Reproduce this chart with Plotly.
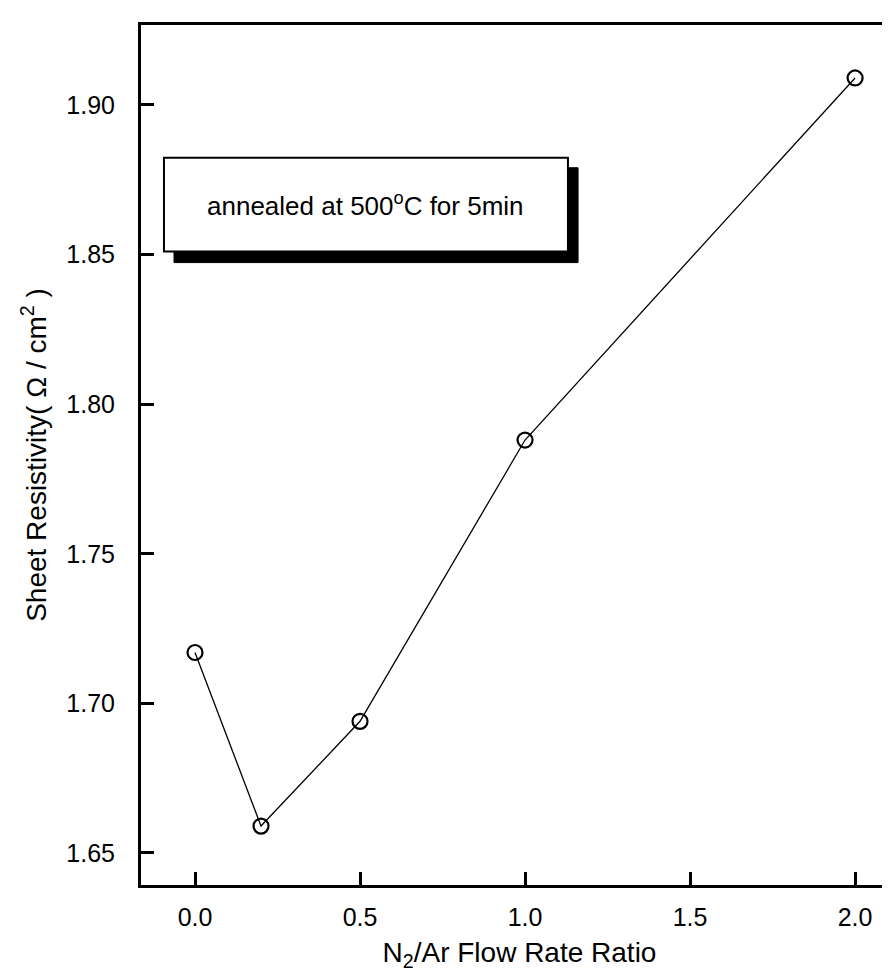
import plotly.graph_objects as go

# Data
flow_ratio = [0.0, 0.2, 0.5, 1.0, 2.0]
sheet_resistivity = [1.717, 1.659, 1.694, 1.788, 1.909]

x_ticks = [0.0, 0.5, 1.0, 1.5, 2.0]
y_ticks = [1.65, 1.70, 1.75, 1.80, 1.85, 1.90]

note_text = "annealed at 500<sup>o</sup>C for 5min"
x_title = "N<sub>2</sub>/Ar Flow Rate Ratio"
y_title = "Sheet Resistivity( \u03a9 / cm<sup>2</sup> )"

FONT = "Arial, 'Liberation Sans', Helvetica, sans-serif"

fig = go.Figure()
fig.add_trace(go.Scatter(
    x=flow_ratio, y=sheet_resistivity,
    mode="lines+markers",
    line=dict(color="black", width=1.3),
    marker=dict(symbol="circle-open", size=15, color="black",
                line=dict(color="black", width=2.2)),
    showlegend=False,
))

# shadowed label box
fig.add_shape(type="rect", xref="x", yref="y",
              x0=-0.0636, x1=1.1606, y0=1.8473, y1=1.879,
              fillcolor="black", line=dict(color="black", width=1), layer="above")
fig.add_shape(type="rect", xref="x", yref="y",
              x0=-0.094, x1=1.130, y0=1.851, y1=1.8823,
              fillcolor="white", line=dict(color="black", width=2), layer="above")
fig.add_annotation(x=0.518, y=1.8667, xref="x", yref="y", text=note_text,
                   showarrow=False, font=dict(family=FONT, size=26, color="black"))

fig.update_xaxes(
    range=[-0.1636, 2.130],
    tickvals=x_ticks, tickformat=".1f",
    ticks="inside", ticklen=13, tickwidth=2.5, tickcolor="black",
    showline=True, linewidth=3, linecolor="black", mirror=True,
    showgrid=False, zeroline=False,
    tickfont=dict(family=FONT, size=25, color="black"),
    ticklabelstandoff=8,
    title=dict(text=x_title, font=dict(family=FONT, size=28, color="black"), standoff=13),
)
fig.update_yaxes(
    range=[1.6393, 1.9267],
    tickvals=y_ticks, tickformat=".2f",
    ticks="inside", ticklen=13, tickwidth=2.5, tickcolor="black",
    showline=True, linewidth=3, linecolor="black", mirror=False,
    showgrid=False, zeroline=False,
    tickfont=dict(family=FONT, size=25, color="black"),
    ticklabelstandoff=18,
    title=dict(text=y_title, font=dict(family=FONT, size=28, color="black"), standoff=12),
)

fig.update_layout(
    width=890, height=978,
    margin=dict(l=133, r=0, t=17, b=101),
    paper_bgcolor="white", plot_bgcolor="white",
    font=dict(family=FONT, color="black"),
)

fig.write_html("out.html")
